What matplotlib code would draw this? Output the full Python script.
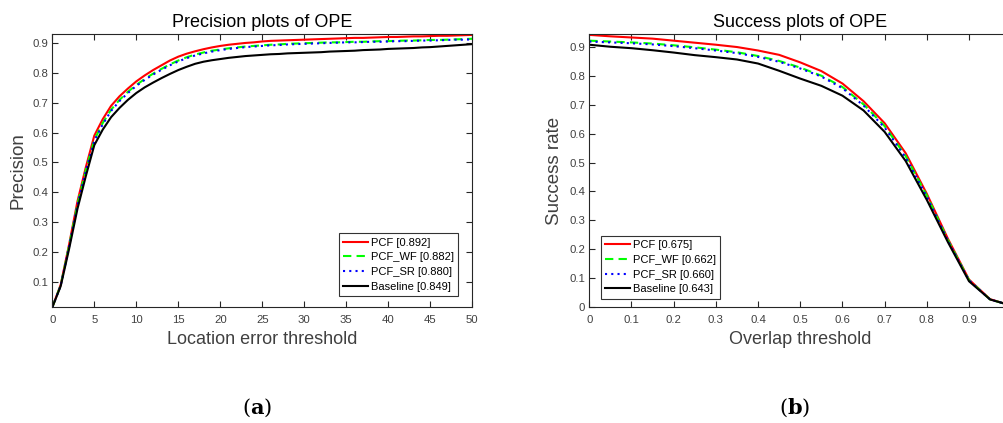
import matplotlib
matplotlib.use("Agg")
import matplotlib.pyplot as plt
import numpy as np

plt.rcParams['font.family'] = ['Liberation Sans', 'DejaVu Sans']
plt.rcParams['mathtext.fontset'] = 'dejavuserif'

# ---------------- data ----------------
loc_thresholds = list(range(0, 51))
prec_pcf = [0.014, 0.09, 0.225, 0.37, 0.485, 0.59, 0.645, 0.69, 0.722, 0.748, 0.772, 0.792, 0.81, 0.826, 0.842, 0.855,
            0.865, 0.873, 0.88, 0.886, 0.891, 0.895, 0.898, 0.901, 0.903, 0.906, 0.908, 0.909, 0.91, 0.911, 0.912,
            0.913, 0.914, 0.915, 0.916, 0.917, 0.918, 0.918, 0.919, 0.92, 0.921, 0.921, 0.922, 0.923, 0.923, 0.924,
            0.925, 0.925, 0.926, 0.927, 0.928]
prec_wf = [0.014, 0.088, 0.22, 0.36, 0.475, 0.575, 0.632, 0.677, 0.71, 0.737, 0.76, 0.78, 0.798, 0.814, 0.829, 0.842,
           0.853, 0.862, 0.869, 0.875, 0.879, 0.883, 0.886, 0.889, 0.891, 0.893, 0.895, 0.896, 0.898, 0.899, 0.9,
           0.901, 0.902, 0.903, 0.903, 0.904, 0.905, 0.905, 0.906, 0.907, 0.907, 0.908, 0.909, 0.909, 0.91, 0.911,
           0.911, 0.912, 0.913, 0.914, 0.915]
prec_sr = [0.014, 0.087, 0.218, 0.357, 0.472, 0.572, 0.628, 0.673, 0.706, 0.733, 0.757, 0.777, 0.795, 0.811, 0.826,
           0.839, 0.85, 0.859, 0.866, 0.872, 0.877, 0.881, 0.884, 0.887, 0.889, 0.891, 0.893, 0.894, 0.896, 0.897,
           0.898, 0.899, 0.9, 0.901, 0.902, 0.903, 0.903, 0.904, 0.905, 0.905, 0.906, 0.907, 0.907, 0.908, 0.909,
           0.909, 0.91, 0.911, 0.912, 0.912, 0.913]
prec_base = [0.014, 0.085, 0.21, 0.345, 0.455, 0.558, 0.61, 0.652, 0.683, 0.71, 0.733, 0.752, 0.768, 0.783, 0.797,
             0.81, 0.821, 0.831, 0.838, 0.843, 0.847, 0.851, 0.854, 0.857, 0.859, 0.861, 0.863, 0.864, 0.866, 0.867,
             0.868, 0.869, 0.87, 0.872, 0.873, 0.874, 0.875, 0.877, 0.878, 0.879, 0.881, 0.882, 0.883, 0.884, 0.886,
             0.887, 0.889, 0.891, 0.893, 0.895, 0.897]

overlap_thresholds = [0.0, 0.05, 0.1, 0.15, 0.2, 0.25, 0.3, 0.35, 0.4, 0.45, 0.5, 0.55, 0.6, 0.65, 0.7, 0.75, 0.8,
                      0.85, 0.9, 0.95, 1.0]
succ_pcf = [0.941, 0.936, 0.932, 0.928, 0.921, 0.914, 0.907, 0.899, 0.887, 0.872, 0.846, 0.816, 0.773, 0.712, 0.636,
            0.532, 0.392, 0.237, 0.096, 0.028, 0.006]
succ_wf = [0.921, 0.918, 0.915, 0.911, 0.905, 0.898, 0.89, 0.881, 0.868, 0.851, 0.828, 0.8, 0.761, 0.701, 0.626,
           0.522, 0.386, 0.232, 0.094, 0.027, 0.006]
succ_sr = [0.918, 0.915, 0.912, 0.908, 0.902, 0.895, 0.887, 0.878, 0.865, 0.848, 0.825, 0.797, 0.757, 0.697, 0.621,
           0.517, 0.382, 0.23, 0.093, 0.027, 0.006]
succ_base = [0.907, 0.9, 0.895, 0.888, 0.88, 0.871, 0.864, 0.856, 0.842, 0.817, 0.79, 0.765, 0.731, 0.68, 0.606,
             0.505, 0.371, 0.225, 0.09, 0.027, 0.006]

prec_labels = ['PCF [0.892]', 'PCF_WF [0.882]', 'PCF_SR [0.880]', 'Baseline [0.849]']
succ_labels = ['PCF [0.675]', 'PCF_WF [0.662]', 'PCF_SR [0.660]', 'Baseline [0.643]']

prec_xticks = [0, 5, 10, 15, 20, 25, 30, 35, 40, 45, 50]
prec_yticks = [0.1, 0.2, 0.3, 0.4, 0.5, 0.6, 0.7, 0.8, 0.9]
prec_yticklabels = ['0.1', '0.2', '0.3', '0.4', '0.5', '0.6', '0.7', '0.8', '0.9']
succ_xticks = [0, 0.1, 0.2, 0.3, 0.4, 0.5, 0.6, 0.7, 0.8, 0.9, 1.0]
succ_xticklabels = ['0', '0.1', '0.2', '0.3', '0.4', '0.5', '0.6', '0.7', '0.8', '0.9', '']
succ_yticks = [0, 0.1, 0.2, 0.3, 0.4, 0.5, 0.6, 0.7, 0.8, 0.9]
succ_yticklabels = ['0', '0.1', '0.2', '0.3', '0.4', '0.5', '0.6', '0.7', '0.8', '0.9']

styles = [dict(color='#ff0000', ls='-', lw=1.5),
          dict(color='#00ff00', ls=(0, (4, 2.5)), lw=1.5),
          dict(color='#0000ff', ls=(0, (1, 2)), lw=1.5),
          dict(color='#000000', ls='-', lw=1.5)]

W, H = 1004, 423
fig = plt.figure(figsize=(W / 100, H / 100), dpi=100)
ax1 = fig.add_axes([52.3 / W, 1 - 307.3 / H, 420 / W, 273 / H])
ax2 = fig.add_axes([589.3 / W, 1 - 307.3 / H, 421.9 / W, 273 / H])

tick_col = '#262626'
lab_col = '#404040'


def style_axes(ax):
    ax.tick_params(direction='in', top=True, right=True, labelsize=8.2, colors=tick_col, labelcolor=lab_col,
                   length=4, width=0.8)
    ax.tick_params(axis='x', pad=5.5)
    ax.tick_params(axis='y', pad=3)
    for s in ax.spines.values():
        s.set_linewidth(0.8)
        s.set_color(tick_col)


for ys, st, lab in zip([prec_pcf, prec_wf, prec_sr, prec_base], styles, prec_labels):
    ax1.plot(loc_thresholds, ys, label=lab, **st)
ax1.set_xlim(0, 50)
ax1.set_ylim(0.014, 0.93)
ax1.set_xticks(prec_xticks)
ax1.set_yticks(prec_yticks)
ax1.set_yticklabels(prec_yticklabels)
style_axes(ax1)
ax1.set_title('Precision plots of OPE', fontsize=13, pad=5)
ax1.set_xlabel('Location error threshold', fontsize=13, color=lab_col)
ax1.xaxis.set_label_coords(0.5, (307.3 - 340) / 273)
ax1.xaxis.label.set_va('center')
ax1.set_ylabel('Precision', fontsize=13.5, color=lab_col)
ax1.yaxis.set_label_coords((18 - 52.3) / 420, 0.5)
ax1.yaxis.label.set_va('center')
leg1 = ax1.legend(loc='lower right', bbox_to_anchor=((458.3 - 52.3) / 420, (307.3 - 296) / 273),
                  borderaxespad=0, fontsize=8, frameon=True, fancybox=False, edgecolor='#000000',
                  handlelength=2.2, labelspacing=0.42, handletextpad=0.3, borderpad=0.4)
leg1.get_frame().set_linewidth(0.8)

for ys, st, lab in zip([succ_pcf, succ_wf, succ_sr, succ_base], styles, succ_labels):
    ax2.plot(overlap_thresholds, ys, label=lab, **st)
ax2.set_xlim(0, 1)
ax2.set_ylim(0, 0.943)
ax2.set_xticks(succ_xticks)
ax2.set_xticklabels(succ_xticklabels)
ax2.set_yticks(succ_yticks)
ax2.set_yticklabels(succ_yticklabels)
style_axes(ax2)
cx2 = (800 - 589.3) / 421.9
ax2.set_title('Success plots of OPE', fontsize=13, pad=5, x=cx2)
ax2.set_xlabel('Overlap threshold', fontsize=13, color=lab_col)
ax2.xaxis.set_label_coords(cx2, (307.3 - 340) / 273)
ax2.xaxis.label.set_va('center')
ax2.set_ylabel('Success rate', fontsize=13.5, color=lab_col)
ax2.yaxis.set_label_coords((555 - 589.3) / 421.9, 0.5)
ax2.yaxis.label.set_va('center')
leg2 = ax2.legend(loc='lower left', bbox_to_anchor=((600.7 - 589.3) / 421.9, (307.3 - 298.7) / 273),
                  borderaxespad=0, fontsize=8, frameon=True, fancybox=False, edgecolor='#000000',
                  handlelength=2.2, labelspacing=0.42, handletextpad=0.3, borderpad=0.4)
leg2.get_frame().set_linewidth(0.8)

fig.text(257 / W, 1 - 408 / H, r'($\mathbf{a}$)', ha='center', va='center', fontsize=15,
         family='DejaVu Serif')
fig.text(795 / W, 1 - 408 / H, r'($\mathbf{b}$)', ha='center', va='center', fontsize=15,
         family='DejaVu Serif')

fig.savefig('out.png', dpi=100)
